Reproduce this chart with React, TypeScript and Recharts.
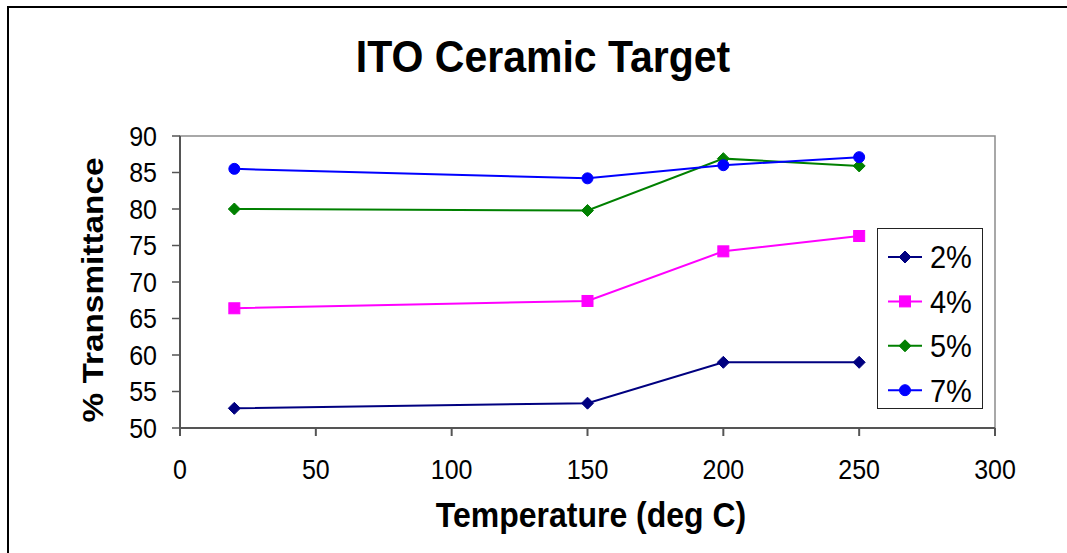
import React from "react";
import { LineChart, Line, XAxis, YAxis, ReferenceArea } from "recharts";

// temperatures (deg C)
const temps = [20, 150, 200, 250];

// % transmittance per doping level
const pct2 = [52.7, 53.4, 59.0, 59.0];
const pct4 = [66.4, 67.4, 74.2, 76.3];
const pct5 = [80.0, 79.8, 86.9, 85.9];
const pct7 = [85.5, 84.2, 86.0, 87.1];

const xTicks = [0, 50, 100, 150, 200, 250, 300];
const yTicks = [50, 55, 60, 65, 70, 75, 80, 85, 90];

const series = [
  { key: "p2", name: "2%", values: pct2, color: "#000080", shape: "diamond" },
  { key: "p4", name: "4%", values: pct4, color: "#FF00FF", shape: "square" },
  { key: "p5", name: "5%", values: pct5, color: "#008000", shape: "diamond" },
  { key: "p7", name: "7%", values: pct7, color: "#0000FF", shape: "circle" },
];

const data = temps.map((t, i) => {
  const row: any = { temp: t };
  series.forEach((s) => (row[s.key] = s.values[i]));
  return row;
});

const FONT = "'Liberation Sans', Arial, sans-serif";

function Marker({ shape, cx, cy, color }: { shape: string; cx: number; cy: number; color: string }) {
  if (shape === "square") {
    return <rect x={cx - 5.5} y={cy - 5.5} width={11} height={11} fill={color} stroke={color} />;
  }
  if (shape === "circle") {
    return <circle cx={cx} cy={cy} r={5.5} fill={color} stroke={color} />;
  }
  const h = 6;
  return (
    <polygon
      points={`${cx},${cy - h} ${cx + h},${cy} ${cx},${cy + h} ${cx - h},${cy}`}
      fill={color}
      stroke={color}
    />
  );
}

// ticks drawn a touch taller than wide, like the original export
const XTick = ({ x, y, payload }: any) => (
  <text transform={`translate(${x},${y}) scale(1,1.08)`} textAnchor="middle" dy="0.71em"
    fontSize={25} fontFamily={FONT} fill="#000">
    {payload.value}
  </text>
);

const YTick = ({ x, y, payload }: any) => (
  <text transform={`translate(${x},${y}) scale(1,1.08)`} textAnchor="end" dy="0.355em"
    fontSize={25} fontFamily={FONT} fill="#000">
    {payload.value}
  </text>
);

function LegendBox({ left, top }: { left: number; top: number }) {
  return (
    <g transform={`translate(${left},${top})`}>
      <rect x={0.5} y={0.5} width={105} height={180} fill="#fff" stroke="#222" />
      {series.map((s, i) => {
        const cy = 29 + i * 44.4;
        return (
          <g key={s.key}>
            <line x1={11} x2={45} y1={cy} y2={cy} stroke={s.color} strokeWidth={2} />
            <Marker shape={s.shape} cx={28} cy={cy} color={s.color} />
            <text transform={`translate(53,${cy}) scale(1,1.1)`} dy="0.36em" fontSize={29}
              fontFamily={FONT} fill="#000">
              {s.name}
            </text>
          </g>
        );
      })}
    </g>
  );
}

export default function App() {
  return (
    <div style={{ position: "absolute", left: 0, top: 0, width: 1067, height: 553, background: "#fff" }}>
      <LineChart width={1067} height={553} data={data} margin={{ top: 136, right: 72, bottom: 0, left: 0 }}>
        <ReferenceArea x1={0} x2={300} y1={50} y2={90} fill="none" stroke="#8c8c8c" strokeWidth={1.5} />
        <XAxis
          dataKey="temp"
          type="number"
          domain={[0, 300]}
          ticks={xTicks}
          interval={0}
          height={125}
          tick={<XTick />}
          tickSize={8}
          tickMargin={24}
          axisLine={{ stroke: "#555", strokeWidth: 2 }}
          tickLine={{ stroke: "#555", strokeWidth: 2 }}
        />
        <YAxis
          type="number"
          domain={[50, 90]}
          ticks={yTicks}
          interval={0}
          width={180}
          tick={<YTick />}
          tickSize={8}
          tickMargin={15}
          axisLine={{ stroke: "#555", strokeWidth: 2 }}
          tickLine={{ stroke: "#555", strokeWidth: 1.5 }}
        />
        {series.map((s) => (
          <Line
            key={s.key}
            dataKey={s.key}
            name={s.name}
            stroke={s.color}
            strokeWidth={2}
            isAnimationActive={false}
            dot={(props: any) => (
              <Marker key={`${s.key}-${props.index}`} shape={s.shape} cx={props.cx} cy={props.cy} color={s.color} />
            )}
            activeDot={false}
          />
        ))}
      </LineChart>

      <svg
        width={1067}
        height={553}
        style={{ position: "absolute", left: 0, top: 0, pointerEvents: "none" }}
      >
        <path d="M8 553 V7 H1067" fill="none" stroke="#000" strokeWidth={2} />
        <text
          transform="translate(543,72) scale(1,1.08)"
          textAnchor="middle"
          fontSize={41}
          fontWeight="bold"
          fontFamily={FONT}
        >
          ITO Ceramic Target
        </text>
        <text
          transform="translate(591,527) scale(1,1.1)"
          textAnchor="middle"
          fontSize={32}
          fontWeight="bold"
          fontFamily={FONT}
        >
          Temperature (deg C)
        </text>
        <text
          transform="translate(103,290) rotate(-90) scale(1.15,1)"
          textAnchor="middle"
          fontSize={29}
          fontWeight="bold"
          fontFamily={FONT}
        >
          % Transmittance
        </text>
        <LegendBox left={877} top={228} />
      </svg>
    </div>
  );
}
